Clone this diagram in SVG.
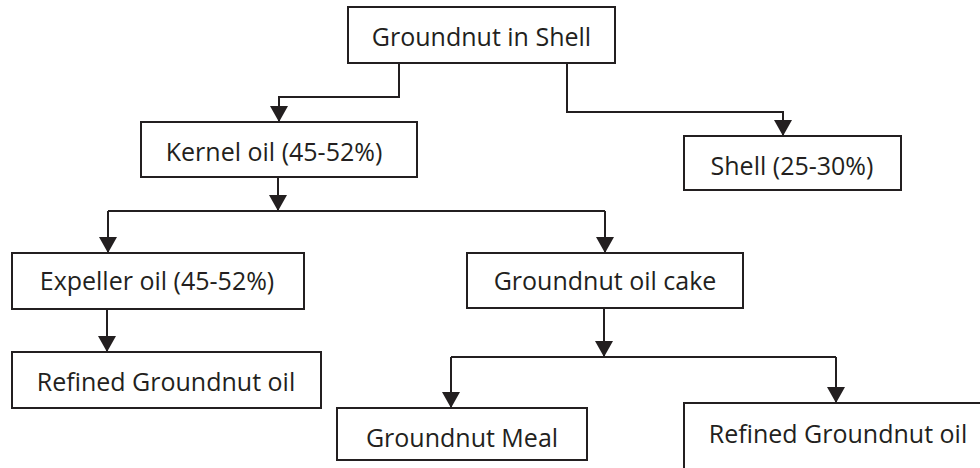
<svg xmlns="http://www.w3.org/2000/svg" width="980" height="468" viewBox="0 0 980 468">
<style>
.box{fill:#fff;stroke:#231f20;stroke-width:2}
.lbl{font-family:"Open Sans","Liberation Sans",sans-serif;font-size:25px;fill:#231f20;text-anchor:middle}
.con{fill:none;stroke:#231f20;stroke-width:2}
</style>
<defs>
<marker id="ah" markerUnits="userSpaceOnUse" markerWidth="18" markerHeight="18" refX="16" refY="9" orient="auto">
<path d="M0,0 L16,9 L0,18 z" fill="#231f20"/>
</marker>
</defs>
<rect width="980" height="468" fill="#fff"/>
<g id="connectors">
<path class="con" d="M399,63 V97 H279 V122" marker-end="url(#ah)"/>
<path class="con" d="M567,63 V112 H783 V136" marker-end="url(#ah)"/>
<path class="con" d="M278,177 V211" marker-end="url(#ah)"/>
<path class="con" d="M108,211 H605"/>
<path class="con" d="M108,211 V253" marker-end="url(#ah)"/>
<path class="con" d="M605,211 V253" marker-end="url(#ah)"/>
<path class="con" d="M107,309 V352" marker-end="url(#ah)"/>
<path class="con" d="M604,308 V357" marker-end="url(#ah)"/>
<path class="con" d="M451,357 H836"/>
<path class="con" d="M451,357 V408" marker-end="url(#ah)"/>
<path class="con" d="M836,357 V403" marker-end="url(#ah)"/>
</g>
<g id="n-shell-in">
<rect class="box" x="348" y="7" width="267" height="56"/>
<text class="lbl" x="481.5" y="46">Groundnut in Shell</text>
</g>
<g id="n-kernel">
<rect class="box" x="141" y="122" width="276" height="55"/>
<text class="lbl" x="274" y="161">Kernel oil (45-52%)</text>
</g>
<g id="n-shell">
<rect class="box" x="684" y="136" width="217" height="54"/>
<text class="lbl" x="792" y="175">Shell (25-30%)</text>
</g>
<g id="n-expeller">
<rect class="box" x="12" y="253" width="292" height="56"/>
<text class="lbl" x="157" y="290">Expeller oil (45-52%)</text>
</g>
<g id="n-cake">
<rect class="box" x="467" y="253" width="276" height="55"/>
<text class="lbl" x="605" y="290">Groundnut oil cake</text>
</g>
<g id="n-refined-left">
<rect class="box" x="12" y="352" width="309" height="56"/>
<text class="lbl" x="166" y="391">Refined Groundnut oil</text>
</g>
<g id="n-meal">
<rect class="box" x="337" y="408" width="250" height="52"/>
<text class="lbl" x="462" y="447">Groundnut Meal</text>
</g>
<g id="n-refined-right">
<rect class="box" x="684" y="403" width="310" height="70"/>
<text class="lbl" x="838" y="443">Refined Groundnut oil</text>
</g>
</svg>
